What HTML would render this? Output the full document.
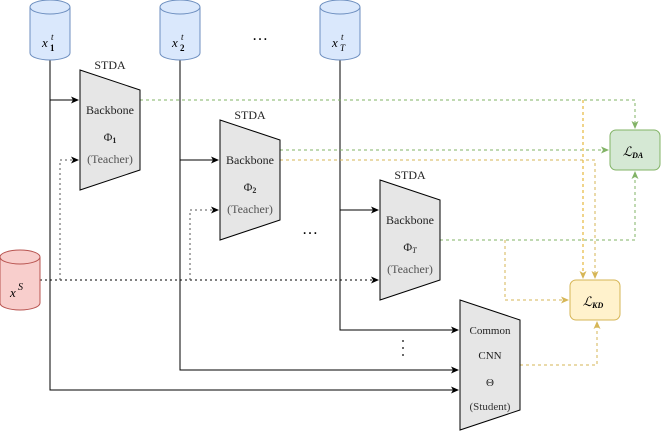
<!DOCTYPE html>
<html><head><meta charset="utf-8"><style>html,body{margin:0;padding:0;background:#fff;font-family:"Liberation Serif",serif;}svg{display:block}
text,tspan{font-family:"Liberation Serif",serif !important;}</style></head>
<body>
<svg width="661" height="431" viewBox="0 0 661 431" xmlns="http://www.w3.org/2000/svg" font-family="'Liberation Serif', serif">
<defs>
<marker id="ab" markerWidth="8" markerHeight="8" refX="7" refY="4" orient="auto" markerUnits="userSpaceOnUse"><path d="M0,0.5 L8,4 L0,7.5 L2,4 z" fill="#000"/></marker>
<marker id="ag" markerWidth="8" markerHeight="8" refX="7" refY="4" orient="auto" markerUnits="userSpaceOnUse"><path d="M0,0.5 L8,4 L0,7.5 L2,4 z" fill="#82b366"/></marker>
<marker id="ay" markerWidth="8" markerHeight="8" refX="7" refY="4" orient="auto" markerUnits="userSpaceOnUse"><path d="M0,0.5 L8,4 L0,7.5 L2,4 z" fill="#d6b656"/></marker>
<marker id="ad" markerWidth="8" markerHeight="8" refX="7" refY="4" orient="auto" markerUnits="userSpaceOnUse"><path d="M0,0.5 L8,4 L0,7.5 L2,4 z" fill="#000"/></marker>
</defs>

<g stroke="#000" stroke-width="1" fill="none">
<path d="M50,60 V390 H458" marker-end="url(#ab)"/>
<path d="M50,100 H78" marker-end="url(#ab)"/>
<path d="M180,60 V370 H458" marker-end="url(#ab)"/>
<path d="M180,160 H218" marker-end="url(#ab)"/>
<path d="M340,60 V330 H458" marker-end="url(#ab)"/>
<path d="M340,210 H378" marker-end="url(#ab)"/>
</g>
<g stroke="#000" stroke-width="1" fill="none" stroke-dasharray="2,3">
<path d="M40,280 H378" marker-end="url(#ad)"/>
</g>
<g stroke="#555" stroke-width="1" fill="none" stroke-dasharray="2,3">
<path d="M60,280 V160 H78" marker-end="url(#ad)"/>
<path d="M190,280 V210 H218" marker-end="url(#ad)"/>
</g>
<g stroke="#82b366" stroke-width="1" fill="none" stroke-dasharray="3,3">
<path d="M140,100 H635 V128" marker-end="url(#ag)"/>
<path d="M280,150 H608" marker-end="url(#ag)"/>
<path d="M440,240 H635 V172" marker-end="url(#ag)"/>
</g>
<g stroke="#d6b656" stroke-width="1" fill="none" stroke-dasharray="3,3">
<path d="M583,100 V278" stroke="#f0d48a" stroke-width="2" marker-end="url(#ay)"/>
<path d="M280,160 H595 V278" marker-end="url(#ay)"/>
<path d="M505,240 V300 H568" marker-end="url(#ay)"/>
<path d="M520,365 H597 V322" marker-end="url(#ay)"/>
</g>

<g stroke="#6c8ebf" fill="#dae8fc">
<path d="M30,7 V53 A20,7 0 0 0 70,53 V7"/><ellipse cx="50" cy="7" rx="20" ry="7"/>
<path d="M160,7 V53 A20,7 0 0 0 200,53 V7"/><ellipse cx="180" cy="7" rx="20" ry="7"/>
<path d="M320,7 V53 A20,7 0 0 0 360,53 V7"/><ellipse cx="340" cy="7" rx="20" ry="7"/>
</g>
<g stroke="#b85450" fill="#f8cecc">
<path d="M0,257 V303 A20,7 0 0 0 40,303 V257"/><ellipse cx="20" cy="257" rx="20" ry="7"/>
</g>
<g font-style="italic" font-size="13">
<text x="42" y="47">x</text><text x="50" y="51" font-size="9" font-style="normal" font-weight="bold">1</text><text x="51" y="40" font-size="9">t</text>
<text x="172" y="47">x</text><text x="180" y="51" font-size="9" font-style="normal" font-weight="bold">2</text><text x="181" y="40" font-size="9">t</text>
<text x="332" y="47">x</text><text x="340" y="51" font-size="9">T</text><text x="341" y="40" font-size="9">t</text>
<text x="10" y="297">x</text><text x="18" y="290" font-size="10">S</text>
</g>

<g stroke="#000" fill="#e6e6e6">
<path d="M80,70 L140,90 V170 L80,190 Z"/>
<path d="M220,120 L280,140 V220 L220,240 Z"/>
<path d="M380,180 L440,200 V280 L380,300 Z"/>
<path d="M460,300 L520,320 V410 L460,430 Z"/>
</g>
<g font-size="12" text-anchor="middle" fill="#222">
<text x="110" y="69">STDA</text>
<text x="250" y="119">STDA</text>
<text x="410" y="179">STDA</text>
<text x="110" y="114">Backbone</text>
<text x="110" y="141">Φ<tspan font-size="8" font-weight="bold" dy="2">1</tspan></text>
<text x="110" y="163" fill="#555">(Teacher)</text>
<text x="250" y="164">Backbone</text>
<text x="250" y="191">Φ<tspan font-size="8" font-weight="bold" dy="2">2</tspan></text>
<text x="250" y="213" fill="#555">(Teacher)</text>
<text x="410" y="224">Backbone</text>
<text x="410" y="251">Φ<tspan font-size="8" font-style="italic" dy="2">T</tspan></text>
<text x="410" y="273" fill="#555">(Teacher)</text>
<text x="490" y="334" font-size="11">Common</text>
<text x="490" y="359" font-size="11">CNN</text>
<text x="490" y="386" font-size="11">Θ</text>
<text x="490" y="410" font-size="11" fill="#333">(Student)</text>
</g>

<rect x="610" y="130" width="50" height="40" rx="6" fill="#d5e8d4" stroke="#82b366"/>
<rect x="570" y="280" width="50" height="40" rx="6" fill="#fff2cc" stroke="#d6b656"/>
<g font-style="italic" text-anchor="middle">
<text x="633" y="156" font-size="13">ℒ<tspan font-size="8" font-weight="bold" dy="2">DA</tspan></text>
<text x="593" y="306" font-size="13">ℒ<tspan font-size="8" font-weight="bold" dy="2">KD</tspan></text>
</g>

<g font-size="16" text-anchor="middle">
<text x="260" y="40">…</text>
<text x="310" y="234">…</text>
</g>
<g fill="#000"><circle cx="403" cy="341" r="0.9"/><circle cx="403" cy="348" r="0.9"/><circle cx="403" cy="355" r="0.9"/></g>
</svg>
</body></html>
